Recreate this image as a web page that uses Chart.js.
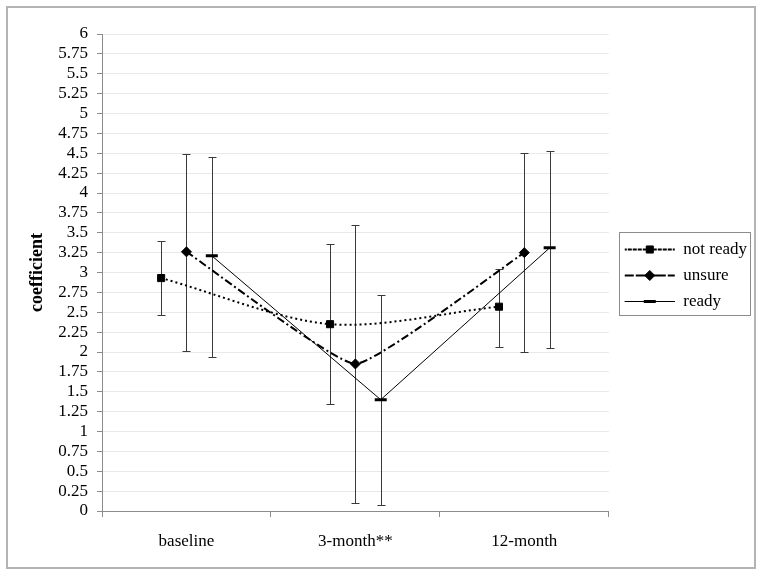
<!DOCTYPE html>
<html>
<head>
<meta charset="utf-8">
<script src="https://cdn.jsdelivr.net/npm/chart.js@4.4.1/dist/chart.umd.min.js"></script>
<style>
    html, body { margin: 0; padding: 0; background: #fff; }
    #wrap { position: relative; width: 762px; height: 576px; }
    #frame {
        position: absolute; left: 6px; top: 6px; width: 746px; height: 559px;
        border: 2px solid #b4b4b4; pointer-events: none;
    }
    canvas { position: absolute; left: 0; top: 0; }
</style>
</head>
<body>
<div id="wrap">
    <canvas id="coefChart" width="762" height="576"></canvas>
    <div id="frame"></div>
</div>
<script>
// categories and tick labels
const categories = ['baseline', '3-month**', '12-month'];
const yTickValues = [0, 0.25, 0.5, 0.75, 1, 1.25, 1.5, 1.75, 2, 2.25, 2.5, 2.75, 3,
    3.25, 3.5, 3.75, 4, 4.25, 4.5, 4.75, 5, 5.25, 5.5, 5.75, 6];
const xTickValues = [0, 0.5, 1, 1.5, 2, 2.5, 3];

// series values (point estimate, upper and lower error bar)
const notReady = [2.93, 2.35, 2.57];
const notReadyHigh = [3.39, 3.36, 3.05];
const notReadyLow = [2.46, 1.34, 2.06];

const unsure = [3.26, 1.85, 3.25];
const unsureHigh = [4.49, 3.60, 4.50];
const unsureLow = [2.01, 0.10, 2.00];

const ready = [3.21, 1.40, 3.31];
const readyHigh = [4.45, 2.72, 4.53];
const readyLow = [1.94, 0.07, 2.05];

// each series sits a little left / right of its category centre
const groupOffset = [-0.15, 0, 0.15];

const FONT = "'Liberation Serif', 'Times New Roman', serif";

function toPoints(values, s) {
    return values.map((v, i) => ({ x: i + 0.5 + groupOffset[s], y: v }));
}

// error bars, drawn through the chart scales
const errorBars = {
    id: 'errorBars',
    beforeDatasetsDraw(chart) {
        const ctx = chart.ctx;
        const xs = chart.scales.x;
        const ys = chart.scales.y;
        ctx.save();
        ctx.strokeStyle = '#3a3a3a';
        ctx.lineWidth = 1;
        chart.data.datasets.forEach((ds, s) => {
            ds.data.forEach((pt, i) => {
                const x = Math.round(xs.getPixelForValue(pt.x)) + 0.5;
                const yHi = Math.round(ys.getPixelForValue(ds.high[i])) + 0.5;
                const yLo = Math.round(ys.getPixelForValue(ds.low[i])) + 0.5;
                ctx.beginPath();
                ctx.moveTo(x, yHi); ctx.lineTo(x, yLo);
                ctx.moveTo(x - 4, yHi); ctx.lineTo(x + 4, yHi);
                ctx.moveTo(x - 4, yLo); ctx.lineTo(x + 4, yLo);
                ctx.stroke();
            });
        });
        ctx.restore();
    }
};

// legend: nudge it, draw the markers and a frame
const legendExtras = {
    id: 'legendExtras',
    afterLayout(chart) {
        const lg = chart.legend;
        lg.left += 7; lg.right += 7;
        lg.top += 3; lg.bottom += 3;
    },
    afterDraw(chart) {
        const lg = chart.legend;
        const boxes = lg.legendHitBoxes;
        if (!boxes || !boxes.length) return;
        const ctx = chart.ctx;
        const bw = lg.options.labels.boxWidth;
        ctx.save();
        boxes.forEach((hb, i) => {
            const ds = chart.data.datasets[i];
            ctx.fillStyle = '#000';
            ctx.strokeStyle = '#000';
            ctx.lineWidth = ds.pointBorderWidth;
            ctx.setLineDash([]);
            Chart.helpers.drawPoint(ctx, {
                pointStyle: ds.pointStyle,
                radius: ds.pointRadius,
                rotation: 0,
                borderWidth: ds.pointBorderWidth
            }, hb.left + bw / 2, hb.top + hb.height / 2);
        });
        const left = Math.min(...boxes.map(b => b.left)) - 6;
        const right = Math.max(...boxes.map(b => b.left + b.width)) + 3;
        const top = boxes[0].top - 9;
        const bottom = boxes[boxes.length - 1].top + boxes[boxes.length - 1].height + 5;
        ctx.strokeStyle = '#8c8c8c';
        ctx.lineWidth = 1;
        ctx.strokeRect(Math.round(left) + 0.5, Math.round(top) + 0.5,
            Math.round(right - left), Math.round(bottom - top));
        ctx.restore();
    }
};

const ctx = document.getElementById('coefChart').getContext('2d');

new Chart(ctx, {
    type: 'line',
    data: {
        datasets: [
            {
                label: 'not ready',
                data: toPoints(notReady, 0),
                high: notReadyHigh,
                low: notReadyLow,
                borderColor: '#000',
                backgroundColor: '#000',
                borderWidth: 2,
                borderDash: [2, 3],
                tension: 0.3,
                pointStyle: 'rect',
                pointRadius: 5,
                pointBorderWidth: 1,
                pointBackgroundColor: '#000'
            },
            {
                label: 'unsure',
                data: toPoints(unsure, 1),
                high: unsureHigh,
                low: unsureLow,
                borderColor: '#000',
                backgroundColor: '#000',
                borderWidth: 2,
                borderDash: [8, 3, 2, 3],
                tension: 0.12,
                pointStyle: 'rectRot',
                pointRadius: 5,
                pointBorderWidth: 1,
                pointBackgroundColor: '#000'
            },
            {
                label: 'ready',
                data: toPoints(ready, 2),
                high: readyHigh,
                low: readyLow,
                borderColor: '#000',
                backgroundColor: '#000',
                borderWidth: 1,
                tension: 0,
                pointStyle: 'line',
                pointRadius: 6,
                pointBorderWidth: 3,
                pointBackgroundColor: '#000'
            }
        ]
    },
    options: {
        responsive: false,
        animation: false,
        layout: {
            padding: { left: 23, top: 34, right: 12, bottom: 20 }
        },
        plugins: {
            tooltip: { enabled: false },
            legend: {
                position: 'right',
                fullSize: false,
                labels: {
                    color: '#000',
                    font: { family: FONT, size: 17 },
                    boxWidth: 50,
                    boxHeight: 0,
                    padding: 9
                }
            }
        },
        scales: {
            x: {
                type: 'linear',
                min: 0,
                max: 3,
                afterBuildTicks: (scale) => {
                    scale.ticks = xTickValues.map(v => ({ value: v }));
                },
                afterFit: (scale) => { scale.height = 45; },
                ticks: {
                    autoSkip: false,
                    maxRotation: 0,
                    padding: 14,
                    color: '#000',
                    font: { family: FONT, size: 17 },
                    callback: (v) => Number.isInteger(v) ? '' : categories[Math.floor(v)]
                },
                grid: {
                    drawOnChartArea: false,
                    drawTicks: true,
                    tickLength: 6,
                    color: '#8c8c8c',
                    tickColor: (c) => (c.tick && Number.isInteger(c.tick.value)) ? '#8c8c8c' : 'rgba(0,0,0,0)'
                },
                border: { color: '#8c8c8c', width: 1 }
            },
            y: {
                min: 0,
                max: 6,
                afterBuildTicks: (scale) => {
                    scale.ticks = yTickValues.map(v => ({ value: v }));
                },
                afterFit: (scale) => { scale.width = 79; },
                ticks: {
                    autoSkip: false,
                    padding: 9,
                    color: '#000',
                    font: { family: FONT, size: 17 },
                    callback: (v) => String(+Number(v).toFixed(2))
                },
                grid: {
                    color: '#e9e9e9',
                    tickLength: 5,
                    tickColor: '#8c8c8c'
                },
                border: { color: '#8c8c8c', width: 1 },
                title: {
                    display: true,
                    text: 'coefficient',
                    color: '#000',
                    font: { family: FONT, size: 18, weight: 'bold' },
                    padding: { top: 4, bottom: 0 }
                }
            }
        }
    },
    plugins: [errorBars, legendExtras]
});
</script>
</body>
</html>
